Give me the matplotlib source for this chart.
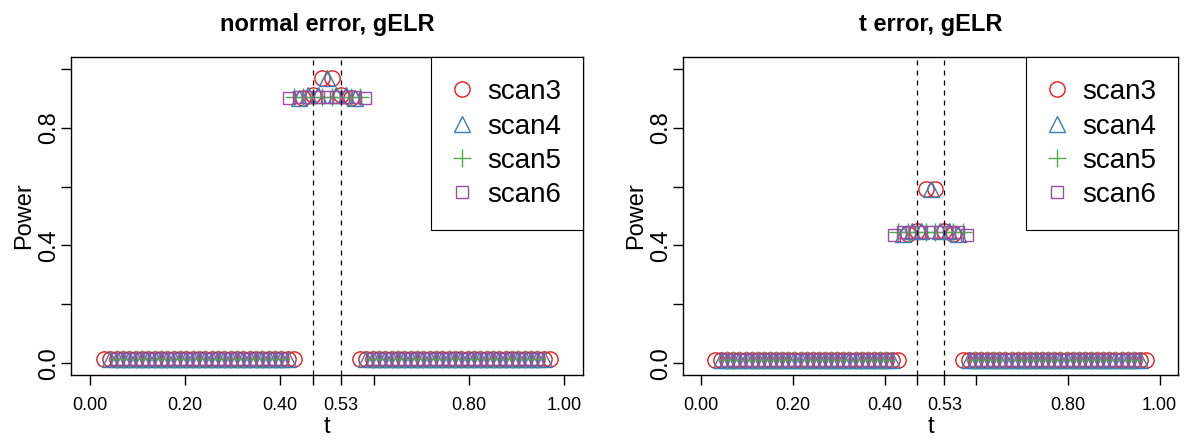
import matplotlib.pyplot as plt
import numpy as np

plt.rcParams['font.family'] = ['Liberation Sans', 'DejaVu Sans']

# candidate locations t (shared by both panels)
t3_low = [0.030, 0.043, 0.057, 0.070, 0.083, 0.097, 0.110, 0.123, 0.137, 0.150, 0.163,
          0.177, 0.190, 0.203, 0.217, 0.230, 0.243, 0.257, 0.270, 0.283, 0.297, 0.310,
          0.323, 0.337, 0.350, 0.363, 0.377, 0.390, 0.403, 0.417, 0.430,
          0.570, 0.583, 0.597, 0.610, 0.623, 0.637, 0.650, 0.663, 0.677, 0.690, 0.703,
          0.717, 0.730, 0.743, 0.757, 0.770, 0.783, 0.797, 0.810, 0.823, 0.837, 0.850,
          0.863, 0.877, 0.890, 0.903, 0.917, 0.930, 0.943, 0.957, 0.970]
t4_low = [0.043, 0.057, 0.070, 0.083, 0.097, 0.110, 0.123, 0.137, 0.150, 0.163,
          0.177, 0.190, 0.203, 0.217, 0.230, 0.243, 0.257, 0.270, 0.283, 0.297, 0.310,
          0.323, 0.337, 0.350, 0.363, 0.377, 0.390, 0.403, 0.417,
          0.583, 0.597, 0.610, 0.623, 0.637, 0.650, 0.663, 0.677, 0.690, 0.703,
          0.717, 0.730, 0.743, 0.757, 0.770, 0.783, 0.797, 0.810, 0.823, 0.837, 0.850,
          0.863, 0.877, 0.890, 0.903, 0.917, 0.930, 0.943, 0.957]
t56_low = [0.057, 0.070, 0.083, 0.097, 0.110, 0.123, 0.137, 0.150, 0.163,
           0.177, 0.190, 0.203, 0.217, 0.230, 0.243, 0.257, 0.270, 0.283, 0.297, 0.310,
           0.323, 0.337, 0.350, 0.363, 0.377, 0.390, 0.403,
           0.597, 0.610, 0.623, 0.637, 0.650, 0.663, 0.677, 0.690, 0.703,
           0.717, 0.730, 0.743, 0.757, 0.770, 0.783, 0.797, 0.810, 0.823, 0.837, 0.850,
           0.863, 0.877, 0.890, 0.903, 0.917, 0.930, 0.943]

t3_mid = [0.450, 0.470, 0.490, 0.510, 0.530, 0.550]
t4_mid = [0.440, 0.460, 0.480, 0.500, 0.520, 0.540, 0.560]
t5_mid = [0.430, 0.450, 0.470, 0.490, 0.510, 0.530, 0.550, 0.570]
t6_mid = [0.420, 0.440, 0.460, 0.480, 0.500, 0.520, 0.540, 0.560, 0.580]

# power outside the epidemic interval (approximately flat)
low_normal = 0.016
low_t = 0.012

# power near the epidemic interval
p3_normal = [0.90, 0.91, 0.97, 0.97, 0.91, 0.90]
p4_normal = [0.90, 0.91, 0.91, 0.97, 0.91, 0.91, 0.90]
p5_normal = [0.905, 0.905, 0.905, 0.905, 0.905, 0.905, 0.905, 0.905]
p6_normal = [0.90, 0.905, 0.905, 0.905, 0.905, 0.905, 0.905, 0.905, 0.90]

p3_t = [0.44, 0.45, 0.59, 0.59, 0.45, 0.44]
p4_t = [0.44, 0.45, 0.45, 0.59, 0.45, 0.45, 0.44]
p5_t = [0.445, 0.445, 0.445, 0.445, 0.445, 0.445, 0.445, 0.445]
p6_t = [0.435, 0.445, 0.445, 0.445, 0.445, 0.445, 0.445, 0.445, 0.435]

change = [0.47, 0.53]
xticks = [0.0, 0.2, 0.4, 0.47, 0.53, 0.6, 0.8, 1.0]
xlabels = ['0.00', '0.20', '0.40', '', '0.53', '', '0.80', '1.00']
yticks = [0.0, 0.2, 0.4, 0.6, 0.8, 1.0]
ylabels = ['0.0', '', '0.4', '', '0.8', '']

cols = ['#E41A1C', '#377EB8', '#4DAF4A', '#984EA3']
names = ['scan3', 'scan4', 'scan5', 'scan6']


def panel(ax, low, mids, title):
    lows = [t3_low, t4_low, t56_low, t56_low]
    ts = [t3_mid, t4_mid, t5_mid, t6_mid]
    marks = ['o', '^', '+', 's']
    sizes = [11, 11, 13, 8]
    for i in range(4):
        x = list(lows[i]) + ts[i]
        y = [low] * len(lows[i]) + mids[i]
        ax.plot(x, y, linestyle='none', marker=marks[i], ms=sizes[i],
                mfc='none', mec=cols[i], mew=1, label=names[i])
    for c in change:
        ax.axvline(c, color='black', lw=0.9, ls=(0, (4, 4)))
    ax.set_xlim(-0.04, 1.04)
    ax.set_ylim(-0.04, 1.04)
    ax.set_xticks(xticks)
    ax.set_xticklabels(xlabels, fontsize=13)
    ax.set_yticks(yticks)
    ax.set_yticklabels(ylabels, fontsize=17, rotation=90, va='center')
    ax.tick_params(direction='out', length=7, width=1)
    ax.tick_params(axis='x', pad=9)
    ax.tick_params(axis='y', pad=1)
    ax.set_xlabel('t', fontsize=17, labelpad=1)
    ax.set_ylabel('Power', fontsize=17, labelpad=2)
    ax.set_title(title, fontsize=17, fontweight='bold', pad=19)
    for s in ax.spines.values():
        s.set_linewidth(1)
    leg = ax.legend(loc='upper right', borderaxespad=0, fancybox=False,
                    edgecolor='black', framealpha=1, fontsize=20,
                    handlelength=0.6, handletextpad=0.6, labelspacing=0.3,
                    borderpad=0.8)
    leg.get_frame().set_linewidth(0.8)


fig = plt.figure(figsize=(12.02, 4.4), dpi=100)
ax1 = fig.add_axes([71 / 1202, 65 / 440, 512 / 1202, 318 / 440])
ax2 = fig.add_axes([683 / 1202, 65 / 440, 495 / 1202, 318 / 440])

panel(ax1, low_normal, [p3_normal, p4_normal, p5_normal, p6_normal], 'normal error, gELR')
panel(ax2, low_t, [p3_t, p4_t, p5_t, p6_t], 't error, gELR')

fig.savefig('out.png', dpi=100)
